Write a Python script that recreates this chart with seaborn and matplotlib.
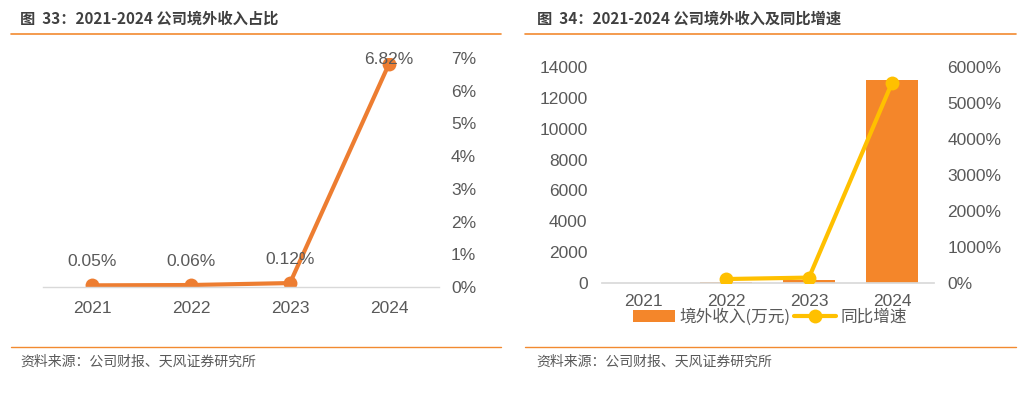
import numpy as np
import pandas as pd
import matplotlib
matplotlib.use("Agg")
import matplotlib.pyplot as plt
from matplotlib.lines import Line2D
from matplotlib.patches import Patch
import seaborn as sns

years = ["2021", "2022", "2023", "2024"]
share_pct = [0.05, 0.06, 0.12, 6.82]
share_labels = ["0.05%", "0.06%", "0.12%", "6.82%"]
overseas_rev = [10, 80, 190, 13180]
yoy_growth = [np.nan, 110, 150, 5560]

sns.set_theme(style="white")
FONT = ["Liberation Sans", "Noto Sans CJK SC", "DejaVu Sans"]
CJK = ["Noto Sans CJK SC", "DejaVu Sans"]
plt.rcParams["font.family"] = FONT
plt.rcParams["axes.unicode_minus"] = False

GRAY = "#595959"
ORANGE = "#ED7D31"
BAR_ORANGE = "#F4862A"
GOLD = "#FFC000"
RULE = "#F28A30"
TS = 12.5

W, H = 1033, 397
fig = plt.figure(figsize=(W / 100, H / 100), dpi=100)

def fx(px):
    return px / W

def fy(py):
    return 1 - py / H

# Titles and rules
fig.text(fx(20), fy(19), "图  33：2021-2024 公司境外收入占比", fontsize=11, fontweight="bold",
         color="#404040", va="center", ha="left", family=CJK)
fig.text(fx(537), fy(19), "图  34：2021-2024 公司境外收入及同比增速", fontsize=11, fontweight="bold",
         color="#404040", va="center", ha="left", family=CJK)
for x0, x1 in [(11, 501), (525, 1016)]:
    fig.add_artist(Line2D([fx(x0), fx(x1)], [fy(34), fy(34)], color=RULE, lw=1.2))
    fig.add_artist(Line2D([fx(x0), fx(x1)], [fy(347), fy(347)], color=RULE, lw=1.0))
fig.text(fx(20), fy(362), "资料来源：公司财报、天风证券研究所", fontsize=10, color=GRAY,
         va="center", ha="left", family=CJK)
fig.text(fx(536), fy(362), "资料来源：公司财报、天风证券研究所", fontsize=10, color=GRAY,
         va="center", ha="left", family=CJK)

# ---- Left chart ----
ax1 = fig.add_axes([fx(42.5), fy(287), fx(438.5 - 42.5), (287 - 58) / H])
df1 = pd.DataFrame({"pos": np.arange(len(years)), "share": np.array(share_pct) / 100})
sns.lineplot(data=df1, x="pos", y="share", ax=ax1, color=ORANGE, lw=3, marker="o",
             markersize=10, markeredgewidth=0)
ax1.set_xlim(-0.5, 3.5)
ax1.set_ylim(0, 0.07)
ax1.yaxis.tick_right()
ax1.set_yticks(np.arange(0, 0.0701, 0.01))
ax1.set_yticklabels([f"{i}%" for i in range(8)])
ax1.set_xticks(np.arange(len(years)))
ax1.set_xticklabels(years)
ax1.set_xticks(np.arange(-0.5, 3.6, 1), minor=True)
ax1.tick_params(axis="x", which="major", length=0, pad=10, labelsize=TS, labelcolor=GRAY)
ax1.tick_params(axis="x", which="minor", length=6, color="#D9D9D9", width=1, direction="out")
ax1.tick_params(axis="y", length=0, pad=9, labelsize=TS, labelcolor=GRAY)
for s in ["top", "left", "right"]:
    ax1.spines[s].set_visible(False)
ax1.spines["bottom"].set_color("#D9D9D9")
ax1.spines["bottom"].set_linewidth(1)
ax1.set_xlabel("")
ax1.set_ylabel("")
ax1.patch.set_alpha(0)
for i, (v, lab) in enumerate(zip(share_pct, share_labels)):
    off = 17 if v < 5 else 3
    ax1.annotate(lab, (i, v / 100), xytext=(0, off), textcoords="offset points",
                 ha="center", va="center", fontsize=TS, color=GRAY, annotation_clip=False)

# ---- Right chart ----
ax2 = fig.add_axes([fx(601.5), fy(283), fx(933.5 - 601.5), (283 - 67) / H])
df2 = pd.DataFrame({"year": years, "rev": overseas_rev})
sns.barplot(data=df2, x="year", y="rev", ax=ax2, color=BAR_ORANGE, width=0.62,
            saturation=1, edgecolor="none", linewidth=0)
ax2.set_xlim(-0.5, 3.5)
ax2.set_ylim(0, 14000)
ax2.set_yticks(np.arange(0, 14001, 2000))
ax2.set_yticklabels([str(v) for v in range(0, 14001, 2000)])
ax2.tick_params(axis="x", length=0, pad=8, labelsize=TS, labelcolor=GRAY)
ax2.tick_params(axis="y", length=0, pad=10, labelsize=TS, labelcolor=GRAY)
for s in ["top", "left", "right"]:
    ax2.spines[s].set_visible(False)
ax2.spines["bottom"].set_color("#D9D9D9")
ax2.set_xlabel("")
ax2.set_ylabel("")
ax2.patch.set_alpha(0)

ax3 = ax2.twinx()
df3 = pd.DataFrame({"pos": np.arange(len(years)), "g": yoy_growth}).dropna()
sns.lineplot(data=df3, x="pos", y="g", ax=ax3, color=GOLD, lw=3, marker="o",
             markersize=10, markeredgewidth=0)
ax3.set_xlim(-0.5, 3.5)
ax3.set_ylim(0, 6000)
ax3.set_yticks(np.arange(0, 6001, 1000))
ax3.set_yticklabels([f"{v}%" for v in range(0, 6001, 1000)])
ax3.tick_params(axis="y", length=0, pad=10, labelsize=TS, labelcolor=GRAY)
for s in ["top", "left", "right", "bottom"]:
    ax3.spines[s].set_visible(False)
ax3.set_xlabel("")
ax3.set_ylabel("")

handles = [Patch(facecolor=BAR_ORANGE, edgecolor="none"),
           Line2D([0], [0], color=GOLD, lw=3, marker="o", markersize=10, markeredgewidth=0)]
leg = fig.legend(handles, ["境外收入(万元)", "同比增速"], loc="center",
                 bbox_to_anchor=(fx(770), fy(317)), ncol=2, frameon=False,
                 handlelength=2.5, handleheight=0.8, columnspacing=0.2,
                 handletextpad=0.3, borderpad=0,
                 prop={"family": CJK, "size": 12})
for t in leg.get_texts():
    t.set_color(GRAY)

fig.savefig("out.png", dpi=100)
